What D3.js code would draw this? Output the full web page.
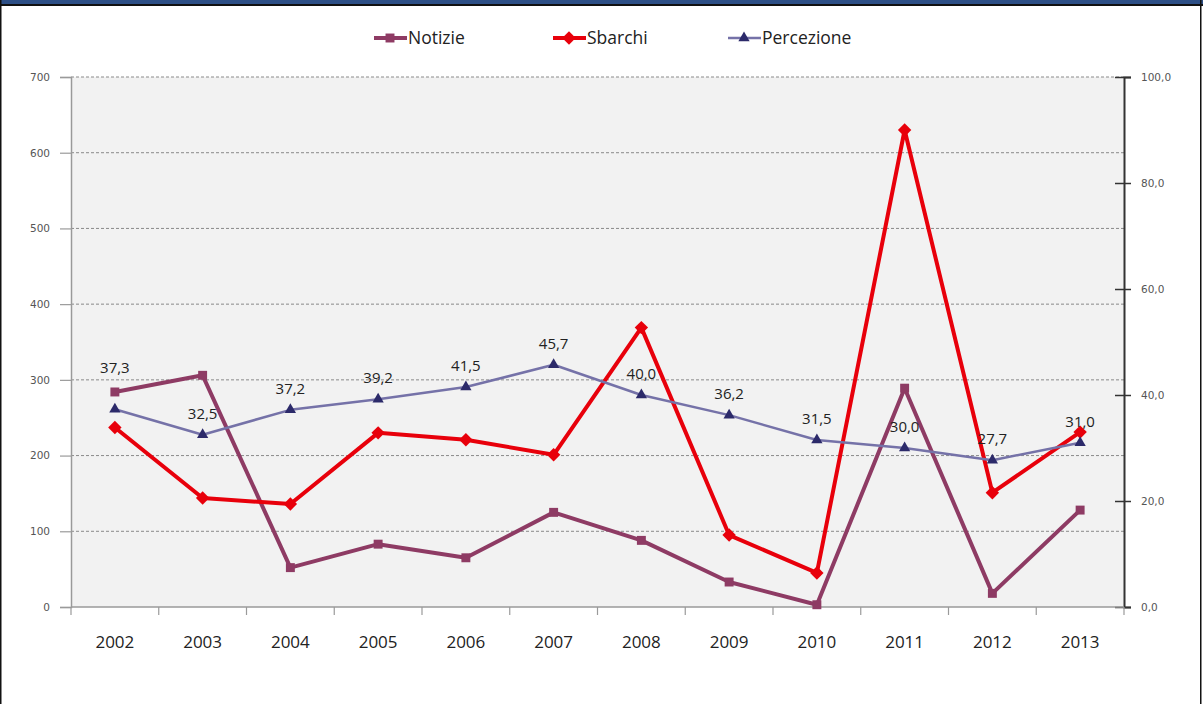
<!DOCTYPE html>
<html><head><meta charset="utf-8">
<script src="https://cdn.jsdelivr.net/npm/d3@7"></script>
<style>
html,body{margin:0;padding:0;background:#fff;}
svg{display:block;}
</style></head>
<body>
<svg id="chart" width="1203" height="704"></svg>
<script>
const years = ["2002","2003","2004","2005","2006","2007","2008","2009","2010","2011","2012","2013"];
const notizie = [284, 306, 52, 83, 65, 125, 88, 33, 3, 289, 18, 128];
const sbarchi = [237, 144, 136, 230, 221, 201, 369, 95, 45, 630, 151, 231];
const percezione = [37.3, 32.5, 37.2, 39.2, 41.5, 45.7, 40.0, 36.2, 31.5, 30.0, 27.7, 31.0];
const leftTicks = [0, 100, 200, 300, 400, 500, 600, 700];
const rightTicks = [0, 20, 40, 60, 80, 100];
const seriesNames = ["Notizie", "Sbarchi", "Percezione"];

const svg = d3.select("#chart");
const W = 1203, H = 704;
const m = {left: 71, right: 1124, top: 77, bottom: 607};

// frame
svg.append("rect").attr("x",0).attr("y",0).attr("width",W).attr("height",4).attr("fill","#2d4f86");
svg.append("rect").attr("x",0).attr("y",4).attr("width",W).attr("height",2).attr("fill","#111");
svg.append("rect").attr("x",0).attr("y",0).attr("width",1.5).attr("height",H).attr("fill","#111");
svg.append("rect").attr("x",W-3).attr("y",0).attr("width",1.5).attr("height",H).attr("fill","#111");

const x = d3.scaleBand().domain(years).range([m.left, m.right]).paddingInner(0).paddingOuter(0);
const yL = d3.scaleLinear().domain([0,700]).range([m.bottom, m.top]);
const yR = d3.scaleLinear().domain([0,100]).range([m.bottom, m.top]);
const cx = d => x(d) + x.bandwidth()/2;

// plot background
svg.append("rect").attr("x",m.left).attr("y",m.top).attr("width",m.right-m.left).attr("height",m.bottom-m.top).attr("fill","#f2f2f2");

// grid
svg.append("g").selectAll("line").data(leftTicks.filter(t=>t>0)).join("line")
  .attr("x1",m.left).attr("x2",m.right).attr("y1",d=>yL(d)).attr("y2",d=>yL(d))
  .attr("stroke","#8a8a8a").attr("stroke-width",1).attr("stroke-dasharray","3,2");

// left axis
const gL = svg.append("g").attr("transform",`translate(${m.left},0)`)
  .call(d3.axisLeft(yL).tickValues(leftTicks).tickSize(11).tickPadding(10).tickFormat(d3.format("d")));
gL.select(".domain").attr("stroke","#9a9a9a").attr("stroke-width",1.5);
gL.selectAll(".tick line").attr("stroke","#9a9a9a").attr("stroke-width",1.2);
gL.selectAll("text").attr("fill","#555").style("font-family","'DejaVu Sans', Verdana, sans-serif").style("font-size","10.5px");

// right axis
const gR = svg.append("g").attr("transform",`translate(${m.right},0)`)
  .call(d3.axisRight(yR).tickValues(rightTicks).tickSize(7).tickPadding(10).tickFormat(d=>d3.format(".1f")(d).replace(".",",")));
gR.select(".domain").attr("stroke","#333").attr("stroke-width",2);
gR.selectAll(".tick line").attr("x1",-9).attr("stroke","#333").attr("stroke-width",1.5);
gR.selectAll("text").attr("fill","#555").style("font-family","'DejaVu Sans', Verdana, sans-serif").style("font-size","10.5px");

// bottom axis
const gB = svg.append("g").attr("transform",`translate(0,${m.bottom})`);
gB.append("line").attr("x1",m.left).attr("x2",m.right).attr("y1",0).attr("y2",0).attr("stroke","#9a9a9a").attr("stroke-width",1.5);
gB.selectAll("line.tk").data(years.concat(["end"])).join("line").attr("class","tk")
  .attr("x1",(d,i)=>m.left + i*x.bandwidth()).attr("x2",(d,i)=>m.left + i*x.bandwidth())
  .attr("y1",0).attr("y2",8).attr("stroke","#9a9a9a").attr("stroke-width",1.2);
gB.selectAll("text").data(years).join("text")
  .attr("x",d=>cx(d)).attr("y",41).attr("text-anchor","middle")
  .style("font-family","'Open Sans', sans-serif").style("font-size","17px").attr("fill","#222")
  .text(d=>d);

const cNot = "#8e3b64", cSb = "#e8000b", cPerc = "#7572a8", cPercM = "#2c2a6a";

function drawLine(vals, yScale, color, width){
  svg.append("path").datum(vals)
    .attr("d", d3.line().x((d,i)=>cx(years[i])).y(d=>yScale(d)))
    .attr("fill","none").attr("stroke",color).attr("stroke-width",width).attr("stroke-linejoin","round");
}
drawLine(notizie, yL, cNot, 4);
drawLine(sbarchi, yL, cSb, 4);
drawLine(percezione, yR, cPerc, 2.5);

const sq = d3.symbol().type(d3.symbolSquare).size(80);
const dm = d3.symbol().type(d3.symbolSquare).size(90);
const tr = d3.symbol().type(d3.symbolTriangle).size(55);

svg.append("g").selectAll("path").data(notizie).join("path")
  .attr("d",sq).attr("transform",(d,i)=>`translate(${cx(years[i])},${yL(d)})`).attr("fill",cNot);
svg.append("g").selectAll("path").data(sbarchi).join("path")
  .attr("d",dm).attr("transform",(d,i)=>`translate(${cx(years[i])},${yL(d)}) rotate(45)`).attr("fill",cSb);
svg.append("g").selectAll("path").data(percezione).join("path")
  .attr("d",tr).attr("transform",(d,i)=>`translate(${cx(years[i])},${yR(d)})`).attr("fill",cPercM);

// labels
svg.append("g").selectAll("text").data(percezione).join("text")
  .attr("x",(d,i)=>cx(years[i]))
  .attr("y",(d,i)=>yR(d) - (i===0 ? 36 : 16))
  .attr("text-anchor","middle")
  .style("font-family","'Open Sans', sans-serif").style("font-size","15px").attr("fill","#222")
  .text(d=>d3.format(".1f")(d).replace(".",","));

// legend
const leg = [{n:seriesNames[0], c:cNot, s:sq, w:4, x:374, rot:0},{n:seriesNames[1], c:cSb, s:dm, w:4, x:553, rot:45},{n:seriesNames[2], c:cPerc, mc:cPercM, s:tr, w:2.5, x:728, rot:0}];
const lg = svg.append("g").selectAll("g").data(leg).join("g").attr("transform",d=>`translate(${d.x},38)`);
lg.append("line").attr("x1",0).attr("x2",33).attr("y1",0).attr("y2",0).attr("stroke",d=>d.c).attr("stroke-width",d=>d.w);
lg.append("path").attr("d",d=>d.s()).attr("transform",d=>`translate(16,0) rotate(${d.rot})`).attr("fill",d=>d.mc||d.c);
lg.append("text").attr("x",34).attr("y",6).style("font-family","'Open Sans', sans-serif").style("font-size","17.5px").attr("fill","#222").text(d=>d.n);
</script>
</body></html>
